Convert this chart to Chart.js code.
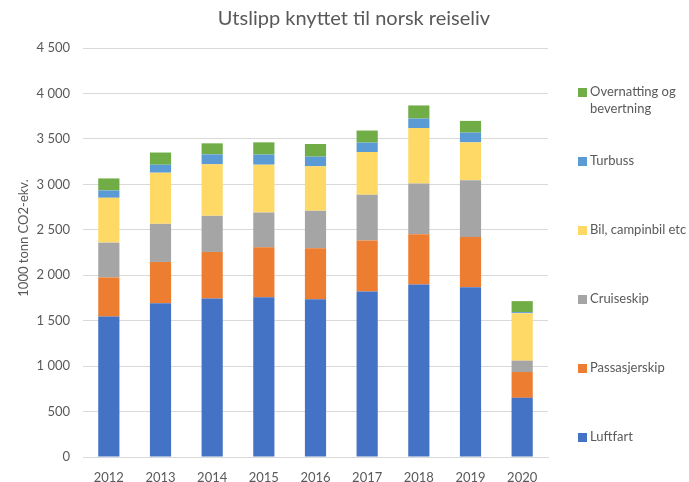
<!DOCTYPE html>
<html>
<head>
<meta charset="utf-8">
<script src="https://cdn.jsdelivr.net/npm/chart.js@4"></script>
<style>
  html, body { margin: 0; padding: 0; background: #ffffff; }
  #wrap { width: 689px; height: 482px; }
</style>
</head>
<body>
<div id="wrap"><canvas id="myChart" width="689" height="482"></canvas></div>
<script>
const years = ['2012', '2013', '2014', '2015', '2016', '2017', '2018', '2019', '2020'];

const luftfart      = [1545, 1693, 1744, 1759, 1737, 1821, 1898, 1869, 651];
const passasjerskip = [431, 453, 512, 548, 559, 560, 552, 552, 284];
const cruiseskip    = [383, 419, 397, 383, 413, 504, 560, 625, 125];
const bil           = [493, 563, 567, 526, 489, 471, 610, 416, 522];
const turbuss       = [81, 88, 110, 112, 107, 103, 104, 107, 12];
const overnatting   = [132, 134, 121, 134, 139, 133, 144, 129, 121];

const yTicks = [0, 500, 1000, 1500, 2000, 2500, 3000, 3500, 4000, 4500];

const titleText = 'Utslipp knyttet til norsk reiseliv';
const yTitle = '1000 tonn CO2-ekv.';

const textColor = '#595959';
const font = 'Lato, "Open Sans", sans-serif';

function fmt(v) {
    return String(v).replace(/\B(?=(\d{3})+(?!\d))/g, ' ');
}

// legend entries, top to bottom (reverse of stacking)
const legendItems = [
    { text: ['Overnatting og', 'bevertning'], color: '#70AD47' },
    { text: ['Turbuss'], color: '#5B9BD5' },
    { text: ['Bil, campinbil etc'], color: '#FFD966' },
    { text: ['Cruiseskip'], color: '#A5A5A5' },
    { text: ['Passasjerskip'], color: '#ED7D31' },
    { text: ['Luftfart'], color: '#4472C4' },
];

const decor = {
    id: 'decor',
    afterDraw: (chart) => {
        const ctx = chart.ctx;
        ctx.save();
        ctx.fillStyle = textColor;
        ctx.textBaseline = 'middle';

        // title
        ctx.font = '20px ' + font;
        ctx.textAlign = 'center';
        ctx.fillText(titleText, 354, 19);

        // y axis title
        ctx.save();
        ctx.translate(24, 238);
        ctx.rotate(-Math.PI / 2);
        ctx.font = '13px ' + font;
        ctx.fillText(yTitle, 0, 0);
        ctx.restore();

        // legend
        ctx.font = '13px ' + font;
        ctx.textAlign = 'left';
        const ys = [92, 161, 230, 299, 368, 437];
        legendItems.forEach((item, i) => {
            const y = ys[i];
            ctx.fillStyle = item.color;
            ctx.fillRect(578, y - 4, 9, 9);
            ctx.fillStyle = textColor;
            item.text.forEach((line, j) => {
                ctx.fillText(line, 590, y + j * 17);
            });
        });
        ctx.restore();
    }
};

const ctx = document.getElementById('myChart').getContext('2d');

new Chart(ctx, {
    type: 'bar',
    data: {
        labels: years,
        datasets: [
            { label: 'Luftfart', data: luftfart, backgroundColor: '#4472C4' },
            { label: 'Passasjerskip', data: passasjerskip, backgroundColor: '#ED7D31' },
            { label: 'Cruiseskip', data: cruiseskip, backgroundColor: '#A5A5A5' },
            { label: 'Bil, campinbil etc', data: bil, backgroundColor: '#FFD966' },
            { label: 'Turbuss', data: turbuss, backgroundColor: '#5B9BD5' },
            { label: 'Overnatting og bevertning', data: overnatting, backgroundColor: '#70AD47' },
        ],
    },
    options: {
        responsive: false,
        animation: false,
        devicePixelRatio: 1,
        datasets: {
            bar: {
                barPercentage: 0.41,
                categoryPercentage: 1,
            },
        },
        plugins: {
            legend: { display: false },
            title: { display: false },
            tooltip: { enabled: false },
        },
        layout: {
            padding: { top: 48, right: 141, left: 0, bottom: 0 },
        },
        scales: {
            x: {
                stacked: true,
                grid: { display: false },
                border: { display: true, color: '#d9d9d9' },
                ticks: {
                    color: textColor,
                    font: { family: font, size: 13 },
                    padding: 5,
                },
                afterFit: (s) => { s.height = 25; },
            },
            y: {
                stacked: true,
                min: 0,
                max: 4500,
                afterBuildTicks: (s) => { s.ticks = yTicks.map(v => ({ value: v })); },
                grid: { color: '#d9d9d9', drawTicks: false },
                border: { display: false },
                ticks: {
                    color: textColor,
                    font: { family: font, size: 13 },
                    padding: 13,
                    callback: (v) => fmt(v),
                },
                afterFit: (s) => { s.width = 83; },
            },
        },
    },
    plugins: [decor],
});
</script>
</body>
</html>
